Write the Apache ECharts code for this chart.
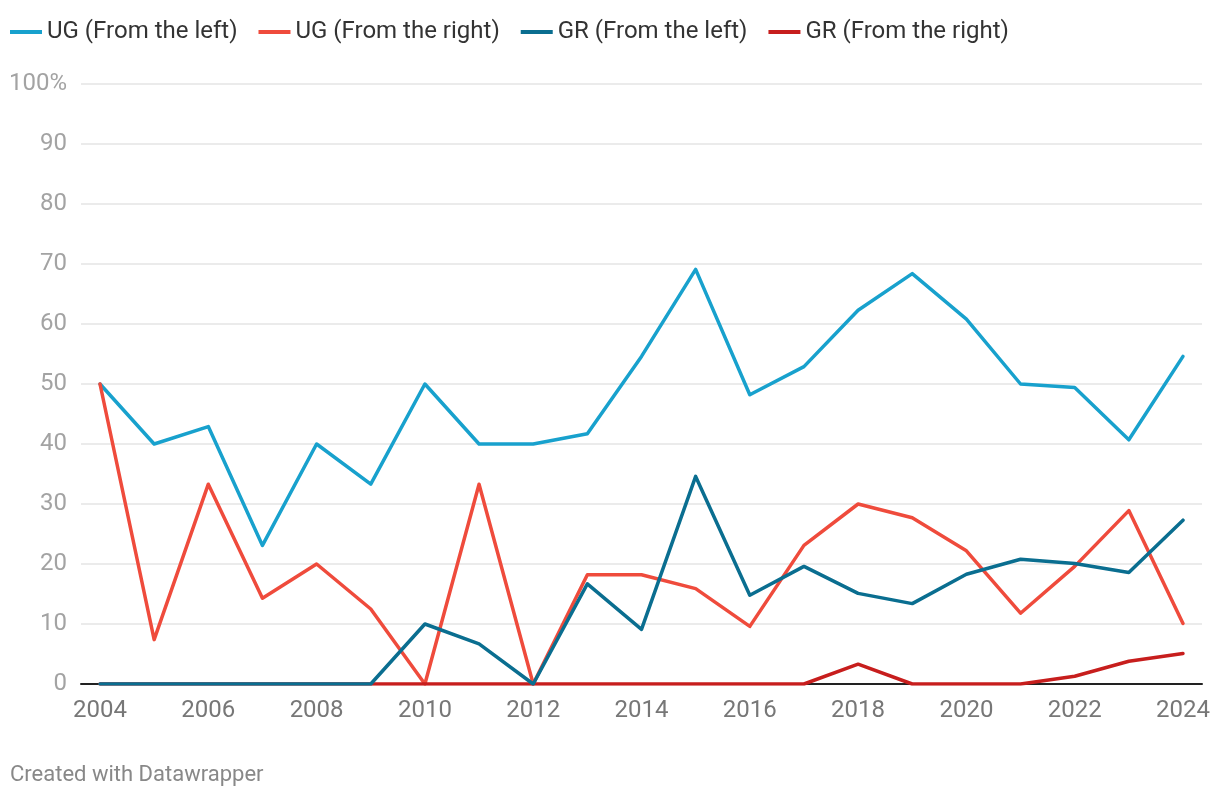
<!DOCTYPE html>
<html>
<head>
<meta charset="utf-8">
<script src="https://cdn.jsdelivr.net/npm/echarts@6/dist/echarts.min.js"></script>
<style>
html,body{margin:0;padding:0;background:#fff;}
#chart{width:1220px;height:800px;}
</style>
</head>
<body>
<div id="chart"></div>
<script>
const years = [2004,2005,2006,2007,2008,2009,2010,2011,2012,2013,2014,2015,2016,2017,2018,2019,2020,2021,2022,2023,2024];
const ugLeft  = [50,40,42.9,23.1,40,33.3,50,40,40,41.7,54.6,69.1,48.2,52.9,62.3,68.4,60.8,50,49.4,40.7,54.6];
const ugRight = [50,7.4,33.3,14.3,20,12.5,0,33.3,0,18.2,18.2,15.9,9.6,23.1,30,27.7,22.2,11.8,19.6,28.9,10.1];
const grLeft  = [0,0,0,0,0,0,10,6.7,0,16.7,9.1,34.6,14.8,19.6,15.1,13.4,18.3,20.8,20.1,18.6,27.3];
const grRight = [0,0,0,0,0,0,0,0,0,0,0,0,0,0,3.3,0,0,0,1.3,3.8,5.1];
const xTickLabels = [2004,2006,2008,2010,2012,2014,2016,2018,2020,2022,2024];
const seriesNames = ['UG (From the left)','UG (From the right)','GR (From the left)','GR (From the right)'];
const seriesColors = ['#18a1cd','#ef4b3c','#0a6e90','#c71e1d'];
const seriesData = [ugLeft, ugRight, grLeft, grRight];

const chart = echarts.init(document.getElementById('chart'), null, {renderer:'canvas'});
const font = 'Roboto';
const series = seriesNames.map((n,i)=>({
  name:n, type:'line', data: years.map((y,k)=>[y, seriesData[i][k]]),
  showSymbol:false, symbol:'none', animation:false,
  lineStyle:{color:seriesColors[i], width:3.5, cap:'round', join:'round'},
  itemStyle:{color:seriesColors[i]},
  z: [2,3,5,4][i]
}));
chart.setOption({
  animation:false,
  textStyle:{fontFamily:font},
  legend:{
    left:10, top:20, padding:0, itemWidth:32, itemHeight:4, itemGap:21, icon:'rect',
    textStyle:{fontFamily:font, fontSize:24, color:'#333'},
    data: seriesNames
  },
  grid:{left:81, right:18, top:84, bottom:116, containLabel:false},
  xAxis:{
    type:'value', min:2003.649, max:2024.351,
    axisLine:{show:true, onZero:true, lineStyle:{color:'#222', width:2}, z:10},
    axisTick:{show:false},
    splitLine:{show:false},
    axisLabel:{customValues: xTickLabels, color:'#777', fontSize:24, fontFamily:font, margin:15, formatter:v=>String(v)}
  },
  yAxis:{
    type:'value', min:0, max:100, interval:10,
    axisLine:{show:false}, axisTick:{show:false},
    splitLine:{show:true, lineStyle:{color:'#e5e5e5', width:1.5}},
    axisLabel:{color:'#a3a3a3', fontSize:24, fontFamily:font, margin:14,
      formatter:v=> v===100 ? '100%' : (v===0 ? '0' : String(v)),
      showMinLabel:true, showMaxLabel:true}
  },
  graphic:[{type:'text', left:10, top:764, style:{text:'Created with Datawrapper', fill:'#888', font:'22px Roboto'}}],
  series: series
});
</script>
</body>
</html>
